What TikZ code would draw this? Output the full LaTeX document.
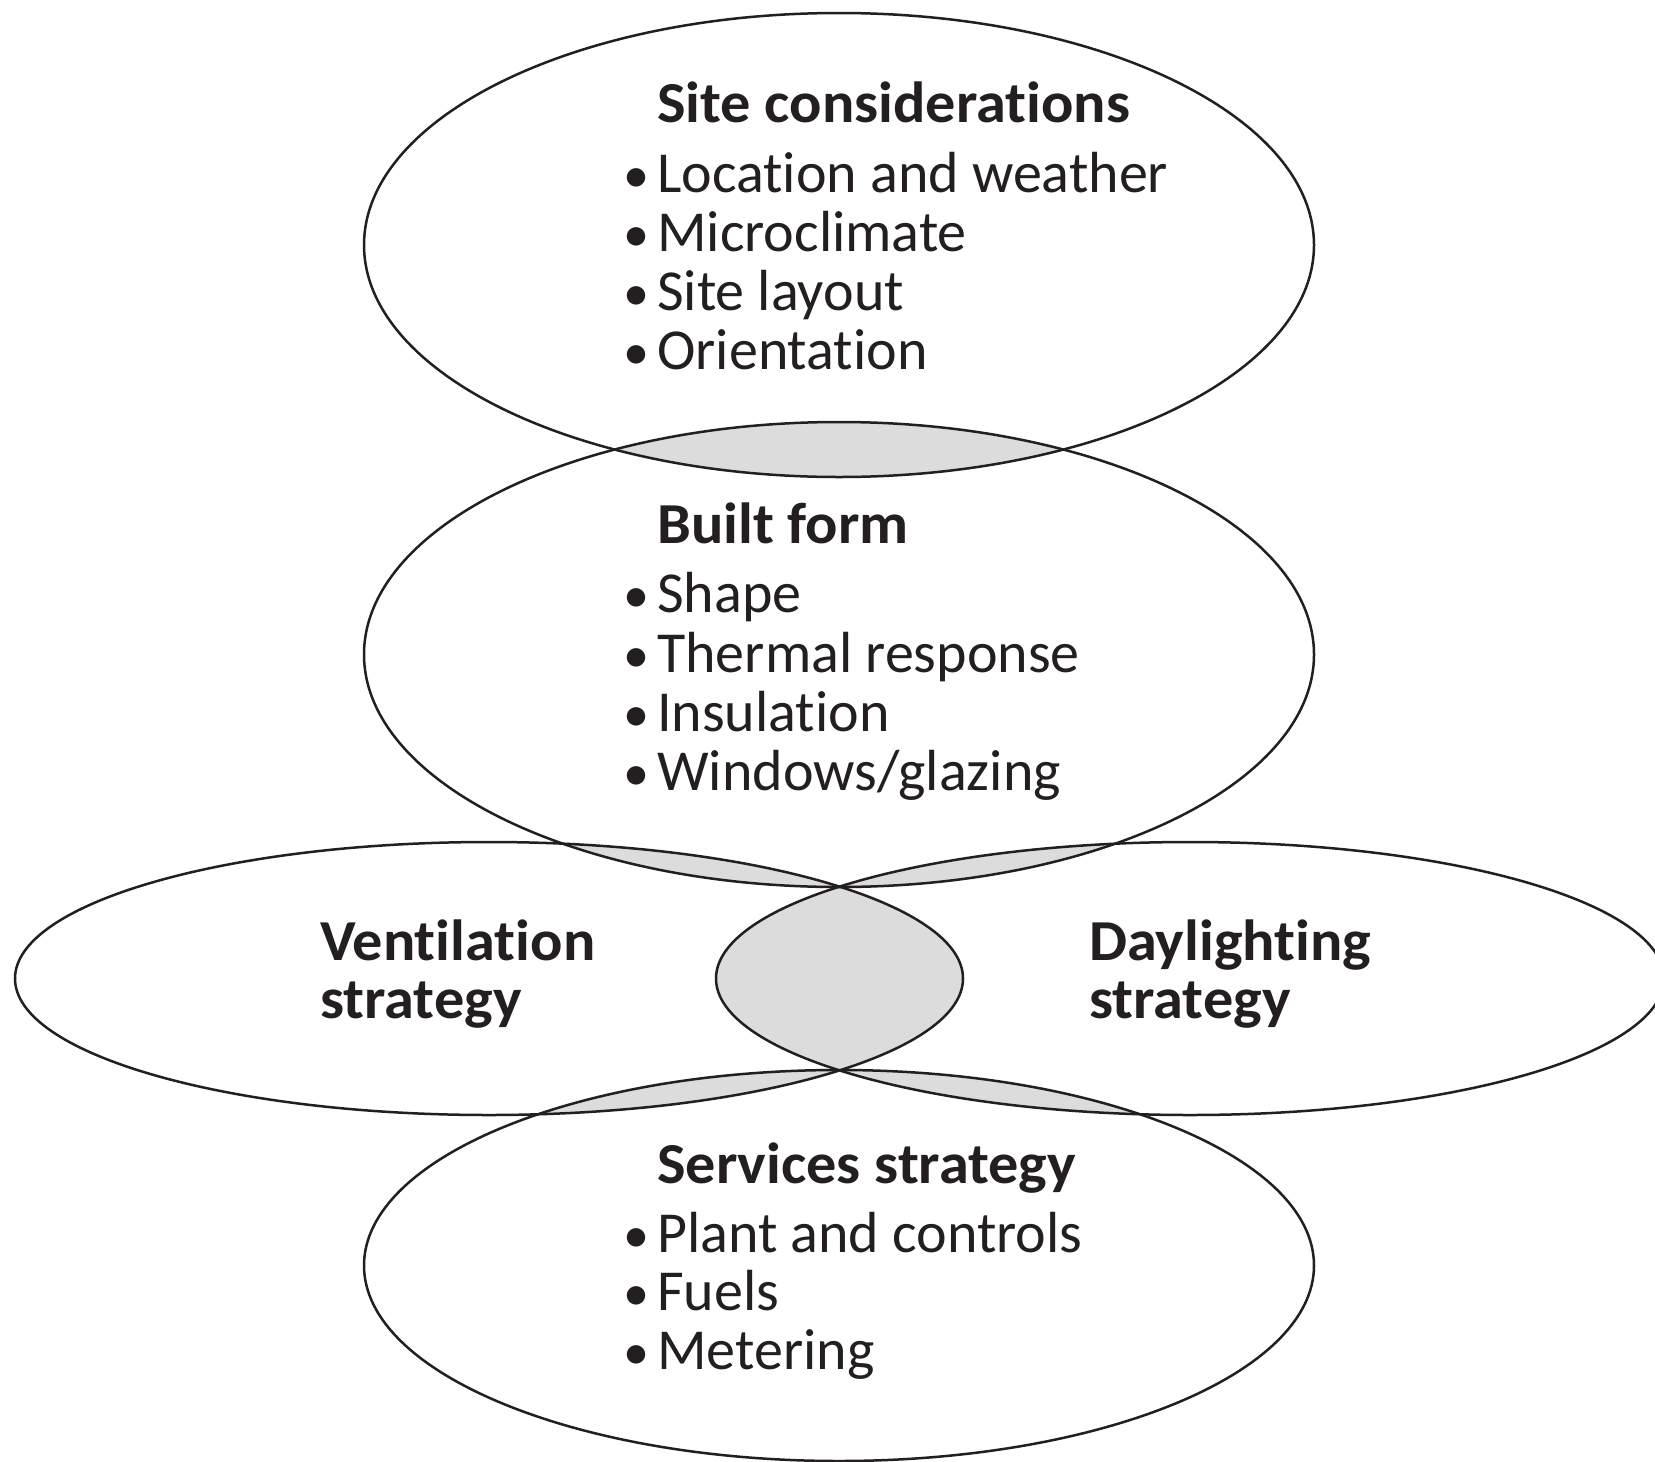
\documentclass[tikz,border=0pt]{standalone}
\usepackage{fontspec}
\setmainfont{Carlito}[RawFeature={-liga;-clig;-calt;-dlig},BoldFeatures={FakeStretch=1.04}]
\definecolor{ink}{HTML}{231F20}
\definecolor{lensgray}{HTML}{DCDCDC}
\newcommand\bu{\llap{\makebox[42pt][c]{\scalebox{0.9}{•}}}}
\newcommand\tI{t\kern0pt i}
\newcommand\pTop{(839,245) ellipse [x radius=475pt, y radius=232pt]}
\newcommand\pMid{(839,654.5) ellipse [x radius=475pt, y radius=232.5pt]}
\newcommand\pLeft{(489,978.5) ellipse [x radius=474pt, y radius=136.5pt]}
\newcommand\pRight{(1190,978.5) ellipse [x radius=474pt, y radius=136.5pt]}
\newcommand\pBot{(839,1265.5) ellipse [x radius=475pt, y radius=195.5pt]}
\begin{document}
\begin{tikzpicture}[x=1pt,y=-1pt,
  outline/.style={draw=ink,line width=2.5pt},
  lens/.style={fill=lensgray},
  title/.style={anchor=base west,inner sep=0pt,text=ink,font=\fontsize{58}{58}\selectfont\bfseries},
  item/.style={anchor=base west,inner sep=0pt,text=ink,font=\fontsize{58}{58}\selectfont}]
\useasboundingbox (0,0) rectangle (1655,1462);
\fill[white] (0,0) rectangle (1655,1462);
% shaded overlaps
\begin{scope}\clip \pTop; \fill[lens] \pMid; \end{scope}
\begin{scope}\clip \pMid; \fill[lens] \pLeft; \end{scope}
\begin{scope}\clip \pMid; \fill[lens] \pRight; \end{scope}
\begin{scope}\clip \pLeft; \fill[lens] \pRight; \end{scope}
\begin{scope}\clip \pBot; \fill[lens] \pLeft; \end{scope}
\begin{scope}\clip \pBot; \fill[lens] \pRight; \end{scope}
% outlines
\draw[outline] \pTop;
\draw[outline] \pMid;
\draw[outline] \pLeft;
\draw[outline] \pRight;
\draw[outline] \pBot;
% site
\node[title] (siteT) at (657,122) {Site considera\tI ons};
\node[item] (site1) at (657,192) {\bu Loca\tI on and weather};
\node[item] (site2) at (657,251) {\bu Microclimate};
\node[item] (site3) at (657,310) {\bu Site layout};
\node[item] (site4) at (657,369) {\bu Orienta\tI on};
% built form
\node[title] (builtT) at (657,543) {Built form};
\node[item] (built1) at (657,612) {\bu Shape};
\node[item] (built2) at (657,672) {\bu Thermal response};
\node[item] (built3) at (657,731) {\bu Insula\tI on};
\node[item] (built4) at (657,790) {\bu Windows/glazing};
% ventilation / daylighting
\node[title] (ventT) at (320,960) {Ven\tI lation};
\node[title] (ventT2) at (320,1018) {strategy};
\node[title] (dayT) at (1089,960) {Daylighting};
\node[title] (dayT2) at (1089,1018) {strategy};
% services
\node[title] (servT) at (657,1183) {Services strategy};
\node[item] (serv1) at (657,1252) {\bu Plant and controls};
\node[item] (serv2) at (657,1310) {\bu Fuels};
\node[item] (serv3) at (657,1369) {\bu Metering};
\end{tikzpicture}
\end{document}
